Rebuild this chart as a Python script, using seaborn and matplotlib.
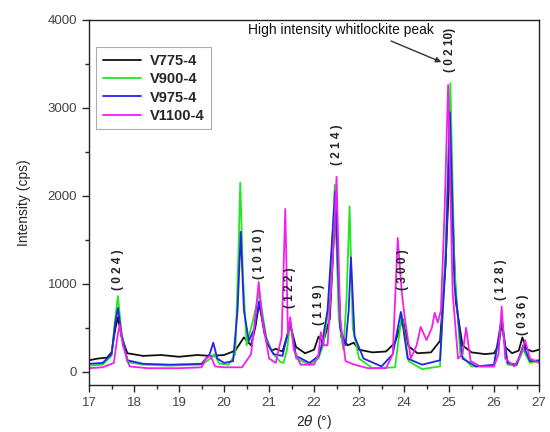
import numpy as np
import pandas as pd
import matplotlib
matplotlib.use("Agg")
import matplotlib.pyplot as plt
import seaborn as sns
from matplotlib.ticker import MultipleLocator

# values (2theta in degrees, intensity in cps)
black_x = [17.0, 17.2, 17.4, 17.5, 17.58, 17.64, 17.72, 17.85, 18.2, 18.6, 19.0, 19.4, 19.7, 20.0,
           20.25, 20.44, 20.6, 20.7, 20.78, 20.9, 21.05, 21.15, 21.3, 21.47, 21.6, 21.8,
           22.0, 22.1, 22.2, 22.35, 22.47, 22.6, 22.75, 22.88, 23.0, 23.3, 23.6, 23.8,
           23.97, 24.1, 24.3, 24.6, 24.8, 24.92, 25.03, 25.15, 25.3, 25.5, 25.8, 26.0,
           26.1, 26.17, 26.25, 26.4, 26.55, 26.63, 26.72, 26.85, 27.0]
black_y = [130, 150, 160, 220, 480, 620, 400, 210, 180, 190, 170, 190, 180, 190,
           240, 390, 300, 520, 780, 430, 240, 260, 230, 530, 280, 210,
           250, 400, 330, 600, 1850, 400, 300, 330, 250, 220, 230, 330,
           600, 290, 210, 220, 350, 1200, 2520, 800, 300, 220, 200, 210,
           300, 550, 280, 210, 240, 390, 260, 230, 250]

green_x = [17.0, 17.3, 17.5, 17.58, 17.64, 17.72, 17.85, 18.2, 18.8, 19.5, 19.7, 19.78, 19.9,
           20.1, 20.25, 20.31, 20.36, 20.42, 20.5, 20.65, 20.78, 20.95, 21.1, 21.25, 21.32,
           21.4, 21.47, 21.6, 21.9, 22.1, 22.2, 22.35, 22.46, 22.55, 22.65, 22.72, 22.79,
           22.86, 23.0, 23.3, 23.8, 23.95, 24.1, 24.4, 24.8, 24.93, 25.03, 25.12, 25.25,
           25.5, 26.0, 26.17, 26.3, 26.5, 26.65, 26.8, 27.0]
green_y = [70, 80, 180, 600, 860, 450, 110, 80, 70, 80, 150, 200, 90,
           80, 200, 1200, 2150, 1100, 300, 600, 900, 350, 200, 110, 100,
           250, 560, 150, 80, 150, 300, 800, 2125, 600, 250, 800, 1880,
           500, 150, 40, 50, 650, 120, 30, 60, 1500, 3280, 1200, 200,
           60, 60, 600, 80, 70, 250, 100, 120]

blue_x = [17.0, 17.3, 17.5, 17.58, 17.64, 17.72, 17.85, 18.2, 18.8, 19.5, 19.68, 19.76, 19.85,
          20.0, 20.2, 20.3, 20.37, 20.44, 20.55, 20.68, 20.78, 20.95, 21.1, 21.3, 21.47,
          21.6, 21.9, 22.1, 22.17, 22.3, 22.47, 22.58, 22.7, 22.77, 22.82, 22.9, 23.1, 23.5,
          23.75, 23.93, 24.08, 24.4, 24.8, 24.93, 25.02, 25.12, 25.3, 25.6, 26.0, 26.17,
          26.3, 26.5, 26.65, 26.8, 27.0]
blue_y = [90, 100, 200, 550, 725, 420, 130, 90, 80, 90, 200, 330, 150,
          100, 120, 700, 1590, 700, 350, 500, 800, 330, 200, 180, 560,
          180, 100, 180, 300, 700, 2050, 500, 300, 700, 1300, 400, 150, 60,
          200, 680, 150, 80, 130, 1300, 2950, 1000, 150, 60, 80, 600,
          100, 80, 300, 120, 130]

mag_x = [17.0, 17.3, 17.55, 17.63, 17.68, 17.75, 17.9, 18.3, 19.0, 19.5, 19.6, 19.7, 19.8,
         20.0, 20.4, 20.6, 20.7, 20.77, 20.85, 21.0, 21.15, 21.28, 21.36, 21.42, 21.47,
         21.55, 21.7, 22.0, 22.1, 22.15, 22.22, 22.3, 22.42, 22.5, 22.58, 22.7, 22.9,
         23.2, 23.6, 23.75, 23.86, 23.95, 24.02, 24.15, 24.28, 24.37, 24.5, 24.62, 24.68,
         24.75, 24.82, 24.9, 24.98, 25.08, 25.2, 25.3, 25.38, 25.48, 25.7, 26.0, 26.1,
         26.17, 26.25, 26.45, 26.6, 26.69, 26.8, 27.0]
mag_y = [40, 50, 100, 400, 535, 300, 60, 40, 40, 50, 150, 180, 60,
         50, 50, 200, 650, 1020, 600, 150, 100, 400, 1850, 420, 620,
         250, 80, 80, 200, 450, 300, 300, 1300, 2215, 600, 120, 80,
         40, 40, 200, 1520, 900, 600, 150, 300, 510, 360, 500, 670,
         560, 700, 1800, 3260, 900, 150, 200, 500, 120, 60, 60, 200,
         740, 150, 60, 200, 360, 150, 100]

series_names = ["V775-4", "V900-4", "V975-4", "V1100-4"]
series_colors = ["#111111", "#22e622", "#2424e8", "#f020f0"]

peak_labels = ["( 0 2 4 )", "( 1 0 1 0 )", "( 1 2 2 )", "( 1 1 9 )", "( 2 1 4 )",
               "( 3 0 0 )", "( 0 2 10)", "( 1 2 8 )", "( 0 3 6 )"]
peak_x = [17.64, 20.77, 21.47, 22.1, 22.5, 23.97, 25.03, 26.15, 26.65]
peak_y = [1160, 1340, 955, 760, 2580, 1160, 3660, 1045, 650]

sns.set_style("ticks")
plt.rcParams['font.family'] = ['Arial', 'Liberation Sans', 'DejaVu Sans']

fig = plt.figure(figsize=(5.5, 4.32), dpi=100)
ax = fig.add_axes([0.162, 0.109, 0.818, 0.845])

for xs, ys, name, col in zip([black_x, green_x, blue_x, mag_x],
                             [black_y, green_y, blue_y, mag_y],
                             series_names, series_colors):
    df = pd.DataFrame({"x": xs, "y": ys})
    sns.lineplot(data=df, x="x", y="y", ax=ax, color=col, label=name,
                 linewidth=1.3, sort=False, estimator=None)

for lab, px, py in zip(peak_labels, peak_x, peak_y):
    ax.text(px, py, lab, rotation=90, ha="center", va="center",
            fontsize=8.5, fontweight="bold", color="#222222")

ax.text(22.6, 3890, "High intensity whitlockite peak", ha="center", va="center",
        fontsize=10, color="#111111")
ax.annotate("", xy=(24.83, 3520), xytext=(23.71, 3760),
            arrowprops=dict(arrowstyle="-|>", color="#333333", lw=1.0,
                            shrinkA=0, shrinkB=0, mutation_scale=8))

ax.set_xlim(17, 27)
ax.set_ylim(-150, 4000)
ax.xaxis.set_major_locator(MultipleLocator(1))
ax.xaxis.set_minor_locator(MultipleLocator(0.5))
ax.yaxis.set_major_locator(MultipleLocator(1000))
ax.yaxis.set_minor_locator(MultipleLocator(500))
ax.tick_params(which="major", direction="out", length=5, width=1, labelsize=9.5,
               labelcolor="#444444", top=False, right=False)
ax.tick_params(which="minor", direction="out", length=3, width=1, top=False, right=False)
for sp in ax.spines.values():
    sp.set_linewidth(1.0)
    sp.set_color("#222222")

ax.set_xlabel(r"2$\theta$ (°)", fontsize=10, labelpad=3)
ax.set_ylabel("Intensity (cps)", fontsize=10, labelpad=12)

leg = ax.legend(loc="upper left", bbox_to_anchor=(0.0, 0.945), frameon=True,
                fancybox=False, handlelength=2.6, fontsize=10.5, borderpad=0.45,
                labelspacing=0.3, handletextpad=0.6)
leg.get_frame().set_edgecolor("#999999")
leg.get_frame().set_linewidth(0.8)
for t in leg.get_texts():
    t.set_fontweight("bold")

fig.savefig("out.png", dpi=100)
